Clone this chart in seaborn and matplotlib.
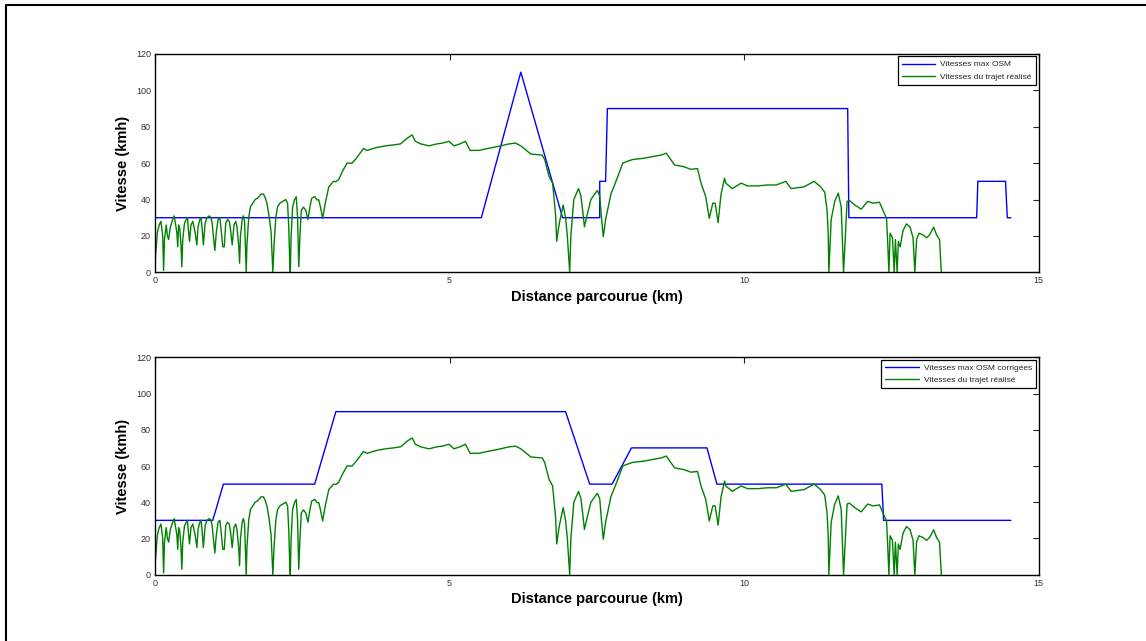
import matplotlib
matplotlib.use("Agg")
import matplotlib.pyplot as plt
from matplotlib.lines import Line2D
import seaborn as sns
import pandas as pd

# ---- data ----
green_dist = [0.00, 0.02, 0.04, 0.07, 0.10, 0.13, 0.145, 0.16, 0.19, 0.21, 0.23, 0.26, 0.30, 0.325,
              0.35, 0.37, 0.385, 0.40, 0.42, 0.44, 0.455, 0.47, 0.50, 0.53, 0.55, 0.57, 0.585, 0.61,
              0.64, 0.66, 0.68, 0.71, 0.73, 0.76, 0.78, 0.80, 0.82, 0.85, 0.88, 0.92, 0.95, 0.97,
              0.99, 1.015, 1.04, 1.07, 1.10, 1.12, 1.15, 1.175, 1.20, 1.23, 1.26, 1.28, 1.31, 1.34,
              1.37, 1.39, 1.42, 1.435, 1.45, 1.48, 1.50, 1.52, 1.535, 1.548, 1.56, 1.59, 1.62, 1.66,
              1.70, 1.75, 1.80, 1.84, 1.87, 1.90, 1.94, 1.97, 1.99, 2.00, 2.02, 2.05, 2.08, 2.12,
              2.17, 2.22, 2.25, 2.27, 2.285, 2.296, 2.31, 2.336, 2.37, 2.398, 2.42, 2.44, 2.46, 2.483,
              2.52, 2.56, 2.596, 2.63, 2.66, 2.71, 2.75, 2.78, 2.807, 2.846, 2.89, 2.95, 3.03, 3.07,
              3.118, 3.19, 3.26, 3.345, 3.40, 3.47, 3.54, 3.60, 3.75, 3.91, 4.05, 4.17, 4.28, 4.365,
              4.42, 4.507, 4.65, 4.79, 4.88, 4.99, 5.074, 5.17, 5.27, 5.35, 5.50, 5.64, 5.87, 6.00,
              6.12, 6.21, 6.38, 6.575, 6.617, 6.69, 6.75, 6.80, 6.82, 6.84, 6.87, 6.93, 6.97, 7.00,
              7.04, 7.06, 7.11, 7.19, 7.23, 7.26, 7.29, 7.34, 7.40, 7.51, 7.55, 7.58, 7.61, 7.65,
              7.74, 7.85, 7.94, 8.02, 8.11, 8.28, 8.45, 8.60, 8.68, 8.82, 8.98, 9.10, 9.21, 9.27,
              9.35, 9.41, 9.47, 9.51, 9.56, 9.61, 9.67, 9.69, 9.80, 9.95, 10.06, 10.23, 10.40, 10.55,
              10.71, 10.80, 11.02, 11.19, 11.30, 11.37, 11.41, 11.43, 11.44, 11.48, 11.54, 11.60, 11.65, 11.69,
              11.75, 11.79, 11.88, 11.99, 12.10, 12.19, 12.30, 12.36, 12.42, 12.44, 12.46, 12.48, 12.52, 12.55,
              12.57, 12.60, 12.62, 12.65, 12.70, 12.76, 12.82, 12.87, 12.90, 12.93, 12.97, 13.04, 13.10, 13.15,
              13.22, 13.27, 13.32, 13.35]
green_speed = [5, 14, 22, 26, 28, 20, 1, 18, 26, 20, 18, 25, 29, 31,
               26, 22, 14, 26, 24, 15, 3, 18, 27, 29, 30, 22, 17, 26,
               28, 25, 22, 15, 25, 29, 30, 24, 15, 27, 30, 31, 30, 27,
               20, 12, 22, 29, 30, 24, 14, 14, 27, 29, 28, 24, 15, 26,
               28, 25, 15, 5, 20, 29, 31, 28, 12, 0, 15, 30, 36, 38,
               40, 41, 43, 43, 41, 38, 30, 22, 8, 0, 15, 30, 36, 38,
               39, 40, 38, 25, 8, 0, 20, 36, 40, 41.5, 30, 3, 20, 34,
               35.8, 34, 29, 36, 40.7, 41.6, 39.8, 39.8, 36, 29.7, 38, 47, 50, 49.8,
               51, 56, 60, 60, 62, 65, 68, 67, 68.5, 69.5, 70, 70.6, 73.7, 75.5,
               72, 70.6, 69.5, 70.6, 71, 72, 69.5, 70.5, 72, 67, 67, 68, 69.5, 70.5,
               71, 69.5, 65, 64.4, 61.8, 52.6, 49, 32, 17, 22, 28, 37, 30, 20,
               0, 20, 40, 46, 42, 34, 25, 32, 40, 45, 42, 30, 19.6, 29,
               43, 52, 60, 61, 62, 62.6, 63.6, 64.5, 65.5, 59, 58, 56.6, 57, 49,
               41.6, 29.7, 38, 38, 27.3, 43, 51.7, 49, 46, 49, 47.5, 47.5, 48, 48,
               50, 46, 47, 50, 47, 44, 34, 21, 0, 29, 39, 43.5, 36, 0,
               39, 39.5, 37, 34.7, 39, 38, 38.5, 34, 29.7, 16, 0, 21.5, 19, 0,
               18, 0, 17, 14, 23, 26.6, 24.8, 19, 0, 18, 21.5, 20.5, 19, 20.5,
               24.8, 20.5, 18, 0]

osm_dist = [0, 5.54, 6.21, 6.92, 7.55, 7.55, 7.65, 7.68, 11.76, 11.78, 13.95, 13.97, 14.44, 14.47, 14.53]
osm_speed = [30, 30, 110, 30, 30, 50, 50, 90, 90, 30, 30, 50, 50, 30, 30]

corr_dist = [0, 0.98, 1.16, 2.71, 3.07, 6.97, 7.38, 7.76, 8.09, 9.37, 9.54, 12.34, 12.37, 14.53]
corr_speed = [30, 30, 50, 50, 90, 90, 50, 50, 70, 70, 50, 50, 30, 30]

x_ticks = [0, 5, 10, 15]
y_ticks = [0, 20, 40, 60, 80, 100, 120]
x_label = "Distance parcourue (km)"
y_label = "Vitesse (kmh)"
label_osm = "Vitesses max OSM"
label_corr = "Vitesses max OSM corrigées"
label_trip = "Vitesses du trajet réalisé"

# ---- plot ----
sns.set_theme(style="white")
plt.rcParams['font.family'] = ['Liberation Sans', 'DejaVu Sans']

fig = plt.figure(figsize=(11.46, 6.41), dpi=100)
ax1 = fig.add_axes([0.1353, 0.5752, 0.7709, 0.3406])
ax2 = fig.add_axes([0.1353, 0.1034, 0.7709, 0.3392])

green_df = pd.DataFrame({"d": green_dist, "v": green_speed})
osm_df = pd.DataFrame({"d": osm_dist, "v": osm_speed})
corr_df = pd.DataFrame({"d": corr_dist, "v": corr_speed})

for ax, bdf, blabel in [(ax1, osm_df, label_osm), (ax2, corr_df, label_corr)]:
    sns.lineplot(data=bdf, x="d", y="v", ax=ax, color=(0, 0, 1), lw=1.0,
                 sort=False, estimator=None, label=blabel)
    sns.lineplot(data=green_df, x="d", y="v", ax=ax, color=(0, 0.5, 0), lw=1.0,
                 sort=False, estimator=None, label=label_trip)
    ax.set_xlim(0, 15)
    ax.set_ylim(0, 120)
    ax.set_xticks(x_ticks)
    ax.set_yticks(y_ticks)
    ax.tick_params(direction='in', top=True, right=True, length=4, width=0.8,
                   labelsize=6.5, pad=3, colors='#222222')
    ax.tick_params(labelcolor='#333333')
    for s in ax.spines.values():
        s.set_color('black')
        s.set_linewidth(1.0)
        s.set_visible(True)
    ax.set_xlabel(x_label, fontsize=10.5, fontweight='bold', labelpad=3, color='black')
    ax.set_ylabel(y_label, fontsize=10.5, fontweight='bold', labelpad=4, color='black')
    leg = ax.legend(loc='upper right', fontsize=6.0, frameon=True, fancybox=False,
                    framealpha=1, edgecolor='black', borderaxespad=0.3,
                    handlelength=4.0, borderpad=0.5, labelspacing=0.55, handletextpad=0.6)
    leg.get_frame().set_linewidth(0.9)

# figure frame (left and top edges)
fig.add_artist(Line2D([6 / 1146, 6 / 1146], [0, 1 - 5 / 641], transform=fig.transFigure,
                      color='black', lw=1.5))
fig.add_artist(Line2D([6 / 1146, 1], [1 - 5 / 641, 1 - 5 / 641], transform=fig.transFigure,
                      color='black', lw=1.5))

fig.savefig("out.png", dpi=100, facecolor='white')
